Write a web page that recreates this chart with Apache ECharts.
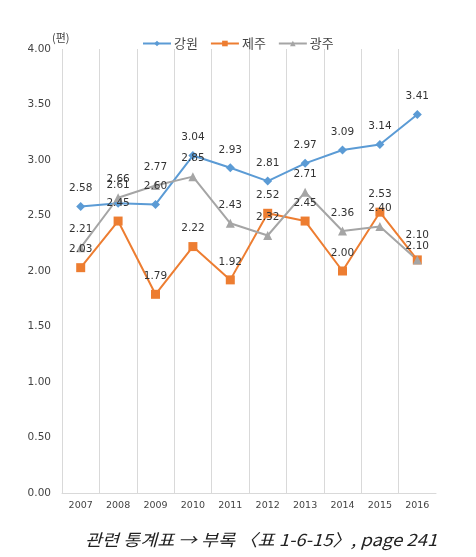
<!DOCTYPE html>
<html><head><meta charset="utf-8">
<script src="https://cdn.jsdelivr.net/npm/echarts@6/dist/echarts.min.js"></script>
<style>html,body{margin:0;padding:0;background:#fff}#c{width:476px;height:557px}</style>
</head><body><div id="c"></div>
<script>
const categories = ['2007','2008','2009','2010','2011','2012','2013','2014','2015','2016'];
const gangwon = [2.58, 2.61, 2.60, 3.04, 2.93, 2.81, 2.97, 3.09, 3.14, 3.41];
const jeju = [2.03, 2.45, 1.79, 2.22, 1.92, 2.52, 2.45, 2.00, 2.53, 2.10];
const gwangju = [2.21, 2.66, 2.77, 2.85, 2.43, 2.32, 2.71, 2.36, 2.40, 2.10];
const seriesNames = ['강원', '제주', '광주'];
const yTicks = { min: 0, max: 4, interval: 0.5 };

const numFont = 'DejaVu Sans';
const chart = echarts.init(document.getElementById('c'));
function mk(name, data, color, symbol, size, extra) {
  return {
    name, type: 'line', symbol, symbolSize: size,
    data: data.map((v, i) => (extra && extra[i] !== undefined) ? { value: v, label: { distance: extra[i] } } : v),
    itemStyle: { color }, lineStyle: { color, width: 2 },
    label: { show: true, position: 'top', distance: 8, color: '#333', fontFamily: numFont, fontSize: 10.5,
      formatter: p => p.value.toFixed(2) },
    z: 3
  };
}
chart.setOption({
  animation: false,
  textStyle: { fontFamily: 'Noto Sans CJK KR' },
  grid: { left: 62, right: 40, top: 49, bottom: 64, containLabel: false },
  legend: {
    top: 32, left: 137, itemWidth: 28, itemHeight: 7, itemGap: 12,
    textStyle: { fontFamily: 'Noto Sans CJK KR', fontSize: 13, color: '#444', padding: [0, 0, 0, -2] },
    data: seriesNames
  },
  graphic: [
    { type: 'text', left: 52, top: 32, style: { text: '(편)', fontFamily: 'Noto Sans CJK KR', fontSize: 11, fill: '#444' } },
    { type: 'text', left: 85, top: 531, scaleX: 1.12, style: { text: '관련 통계표 → 부록 〈표 1-6-15〉, page 241', fontFamily: 'Noto Sans CJK KR', fontStyle: 'italic', fontSize: 16.5, fill: '#222' } }
  ],
  xAxis: {
    type: 'category', data: categories, boundaryGap: true,
    axisLine: { lineStyle: { color: '#d9d9d9', width: 1 } },
    axisTick: { show: false },
    axisLabel: { color: '#444', fontFamily: numFont, fontSize: 9.5, margin: 8 },
    splitLine: { show: true, showMaxLine: false, lineStyle: { color: '#d9d9d9', width: 1 } }
  },
  yAxis: {
    type: 'value', min: yTicks.min, max: yTicks.max, interval: yTicks.interval,
    axisLine: { show: false }, axisTick: { show: false }, splitLine: { show: false },
    axisLabel: { color: '#444', fontFamily: numFont, fontSize: 10.5, margin: 11, formatter: v => v.toFixed(2) }
  },
  series: [
    mk(seriesNames[0], gangwon, '#5B9BD5', 'diamond', 9),
    mk(seriesNames[1], jeju, '#ED7D31', 'rect', 9, { 9: 15 }),
    mk(seriesNames[2], gwangju, '#A5A5A5', 'triangle', 9, { 9: 4 })
  ]
});
</script></body></html>
